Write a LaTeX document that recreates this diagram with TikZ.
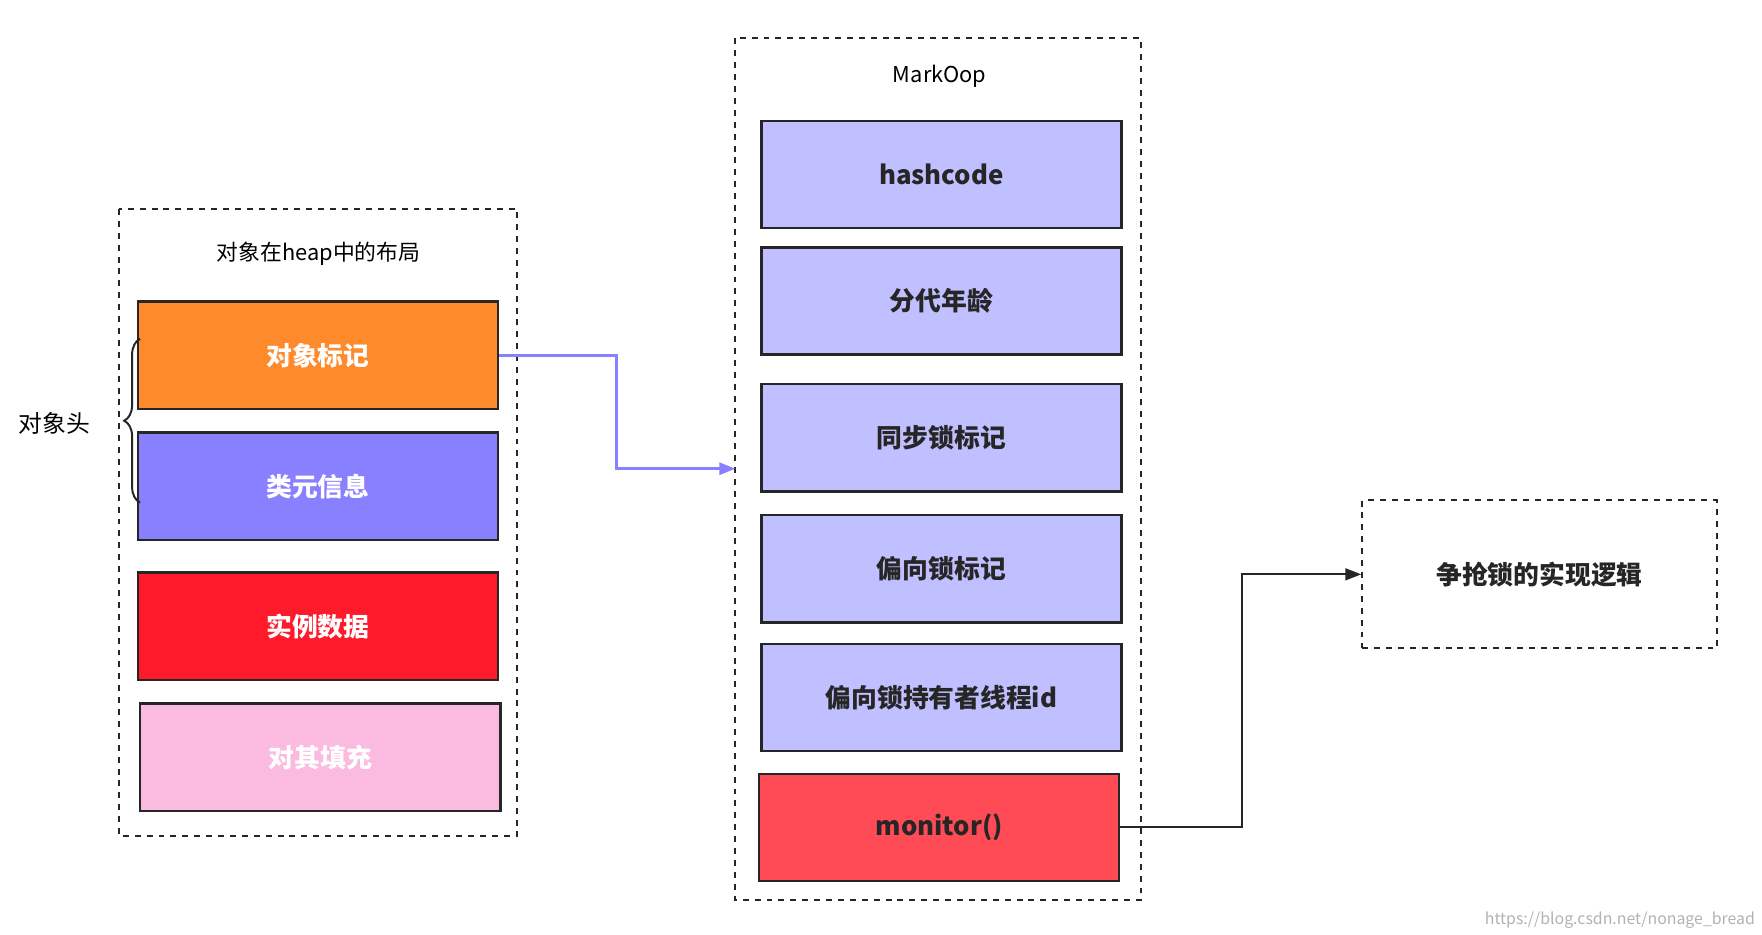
\documentclass[tikz,border=0pt]{standalone}
\usepackage{fontspec}
\setmainfont{Noto Sans CJK SC}
\usepackage{tikz}
\usetikzlibrary{arrows.meta,decorations.pathreplacing}

\definecolor{cOrange}{HTML}{FF8A2B}
\definecolor{cPurple}{HTML}{8880FF}
\definecolor{cRed}{HTML}{FF1A2B}
\definecolor{cPink}{HTML}{FBBADF}
\definecolor{cLilac}{HTML}{C0BFFF}
\definecolor{cMon}{HTML}{FF4B55}

\tikzset{
	box/.style={draw=black!85, line width=1.2pt, minimum width=6.38cm, minimum height=1.9cm, font=\fontsize{13}{15}\selectfont\bfseries},
	frame/.style={draw=black!85, dashed, line width=1pt},
	title/.style={font=\fontsize{11}{13}\selectfont}
}

\begin{document}
\begin{tikzpicture}[x=0.02cm, y=-0.02cm]
	% Canvas:
	\useasboundingbox (0,0) rectangle (1560,827);
	% Left frame:
	\draw[frame] (105,185) rectangle (458,740);
	\node[title] (heapT) at (282,225) {对象在heap中的布局};
	\node[box, fill=cOrange, text=white] (mark) at (281.5,314.5) {对象标记};
	\node[box, fill=cPurple, text=white] (klass) at (281.5,430.5) {类元信息};
	\node[box, fill=cRed, text=white] (data) at (281.5,554.5) {实例数据};
	\node[box, fill=cPink, text=white] (pad) at (283.5,670.5) {对其填充};
	\draw[black!85, line width=1pt, decorate, decoration={brace, amplitude=8pt}] (124,445) -- (124,300);
	\node[title, font=\fontsize{12}{14}\selectfont] (head) at (48,375) {对象头};
	% Middle frame:
	\draw[frame] (651,34) rectangle (1010,797);
	\coordinate (markIn) at (651,415);
	\node[title] (markT) at (832,68) {MarkOop};
	\node[box, fill=cLilac, text=black!85] (hash) at (833.5,154.5) {hashcode};
	\node[box, fill=cLilac, text=black!85] (age) at (833.5,266.5) {分代年龄};
	\node[box, fill=cLilac, text=black!85] (sync) at (833.5,387.5) {同步锁标记};
	\node[box, fill=cLilac, text=black!85] (bias) at (833.5,503.5) {偏向锁标记};
	\node[box, fill=cLilac, text=black!85] (owner) at (833.5,617.5) {偏向锁持有者线程id};
	\node[box, fill=cMon, text=black!85] (mon) at (831.5,732.5) {monitor()};
	% Right frame:
	\node[frame, minimum width=6.28cm, minimum height=2.62cm, font=\fontsize{13}{15}\selectfont\bfseries, text=black!85] (logic) at (1363,508.5) {争抢锁的实现逻辑};
	% Connectors:
	\draw[-{Triangle[length=8pt,width=6pt]}, cPurple, line width=1.5pt] (mark.east) -- (546,314.5) |- (markIn);
	\draw[-{Triangle[length=8pt,width=6pt]}, black!85, line width=1pt] (mon.east) -- (1100,732.5) |- (logic.west);
	% Watermark:
	\node[text=black!30, font=\fontsize{8}{9}\selectfont, anchor=east] (wm) at (1560,815) {https://blog.csdn.net/nonage\_bread};
\end{tikzpicture}
\end{document}
